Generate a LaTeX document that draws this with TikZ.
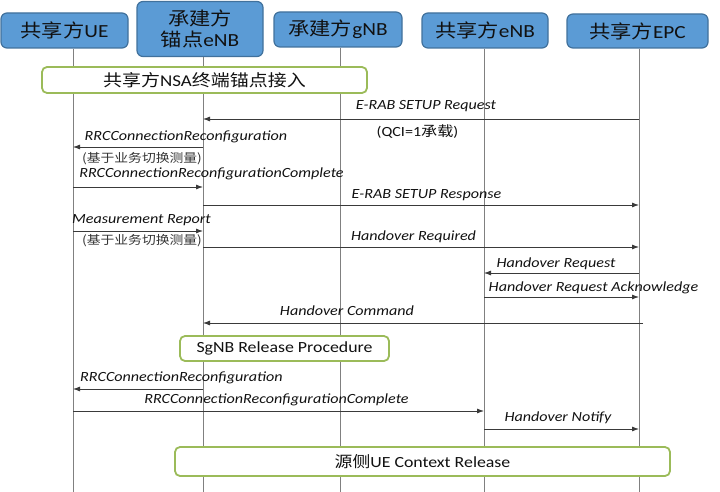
\documentclass[tikz,border=0pt]{standalone}
\usepackage{fontspec}
\setmainfont{Carlito}[FakeStretch=1.15]
\newfontfamily\cjk{Noto Sans CJK SC}[FakeStretch=1.15]
\usetikzlibrary{arrows.meta}
\definecolor{hdrfill}{HTML}{5B9BD5}
\definecolor{hdrdraw}{HTML}{41719C}
\definecolor{grn}{HTML}{9BBB59}
\definecolor{life}{HTML}{808080}
\definecolor{msgc}{HTML}{3A3A3A}
\definecolor{txt}{HTML}{111111}
\begin{document}
\begin{tikzpicture}[x=1pt,y=-1pt,
  hdr/.style={draw=hdrdraw, line width=1.2pt, fill=hdrfill, rounded corners=6pt,
    inner sep=0pt, align=center, text=txt, font=\fontsize{18.5}{20.5}\selectfont},
  grp/.style={draw=grn, line width=1.8pt, fill=white, rounded corners=5pt,
    inner sep=0pt, text=txt},
  lifeline/.style={draw=life, line width=0.9pt},
  msg/.style={draw=msgc, line width=0.8pt, -{Latex[length=7pt,width=5pt]}},
  lbl/.style={font=\itshape\fontsize{14}{16}\selectfont, anchor=base, inner sep=0pt, text=txt},
  plain/.style={font=\fontsize{14}{16}\selectfont, anchor=base, inner sep=0pt, text=txt},
  sublbl/.style={font=\cjk\fontsize{12}{14}\selectfont, anchor=base, inner sep=0pt, text=txt!85},
]
\useasboundingbox (0,0) rectangle (720,492);

% lifeline x positions
\coordinate (ueL) at (73,0);
\coordinate (ancL) at (203,0);
\coordinate (gnbL) at (340,0);
\coordinate (enbL) at (484,0);
\coordinate (epcL) at (639,0);
\coordinate (bot) at (0,492);

% headers
\node[hdr, minimum width=127, minimum height=35] (ue) at (64.5,30.5) {{\cjk 共享方}UE};
\node[hdr, minimum width=126, minimum height=55] (anc) at (200,29) {{\cjk 承建方}\\{\cjk 锚点}eNB};
\node[hdr, minimum width=128, minimum height=35] (gnb) at (338,29.5) {{\cjk 承建方}gNB};
\node[hdr, minimum width=126, minimum height=35] (enb) at (485,30.5) {{\cjk 共享方}eNB};
\node[hdr, minimum width=141, minimum height=34] (epc) at (637.5,31) {{\cjk 共享方}EPC};

% lifelines
\draw[lifeline] (ue.south -| ueL) -- (ueL |- bot);
\draw[lifeline] (anc.south -| ancL) -- (ancL |- bot);
\draw[lifeline] (gnb.south -| gnbL) -- (gnbL |- bot);
\draw[lifeline] (enb.south -| enbL) -- (enbL |- bot);
\draw[lifeline] (epc.south -| epcL) -- (epcL |- bot);

% group boxes
\node[grp, minimum width=325, minimum height=26, font=\cjk\fontsize{16.5}{18}\selectfont] (g1) at (204.5,80) {共享方{\rmfamily NSA}终端锚点接入};
\node[grp, minimum width=209, minimum height=25, font=\fontsize{15.5}{17}\selectfont] (g2) at (284.5,348.5) {SgNB Release Procedure};
\node[grp, minimum width=495, minimum height=29, font=\fontsize{15.5}{17}\selectfont] (g3) at (422.5,461.5) {{\cjk 源侧}UE Context Release};

% messages
\draw[msg] (epcL |- 0,119) -- (ancL |- 0,119);
\draw[msg] (ancL |- 0,147) -- (ueL |- 0,147);
\draw[msg] (ueL |- 0,187) -- (ancL |- 0,187);
\draw[msg] (ancL |- 0,205) -- (epcL |- 0,205);
\draw[msg] (ueL |- 0,231) -- (ancL |- 0,231);
\draw[msg] (ancL |- 0,247) -- (epcL |- 0,247);
\draw[msg] (epcL |- 0,273) -- (enbL |- 0,273);
\draw[msg] (enbL |- 0,297) -- (epcL |- 0,297);
\draw[msg] ([xshift=4pt]epcL |- 0,323) -- (ancL |- 0,323);
\draw[msg] (ancL |- 0,389) -- (ueL |- 0,389);
\draw[msg] (ueL |- 0,411) -- (enbL |- 0,411);
\draw[msg] (enbL |- 0,429) -- (epcL |- 0,429);

% labels
\node[lbl] (l1) at (426,110) {E-RAB SETUP Request};
\node[plain] (l1b) at (417.5,136) {(QCI=1{\cjk 承载})};
\node[lbl] (l2) at (186,140) {RRCConnectionReconfiguration};
\node[sublbl] (l2b) at (142,162) {(基于业务切换测量)};
\node[lbl] (l3) at (211.5,177) {RRCConnectionReconfigurationComplete};
\node[lbl] (l4) at (426.5,198) {E-RAB SETUP Response};
\node[lbl] (l5) at (141.5,223) {Measurement Report};
\node[sublbl] (l5b) at (142,244) {(基于业务切换测量)};
\node[lbl] (l6) at (413.5,240) {Handover Required};
\node[lbl] (l7) at (556,267) {Handover Request};
\node[lbl] (l8) at (593.5,291) {Handover Request Acknowledge};
\node[lbl] (l9) at (347,315) {Handover Command};
\node[lbl] (l11) at (181.5,381) {RRCConnectionReconfiguration};
\node[lbl] (l12) at (276.5,403) {RRCConnectionReconfigurationComplete};
\node[lbl] (l13) at (558,421) {Handover Notify};
\end{tikzpicture}
\end{document}
